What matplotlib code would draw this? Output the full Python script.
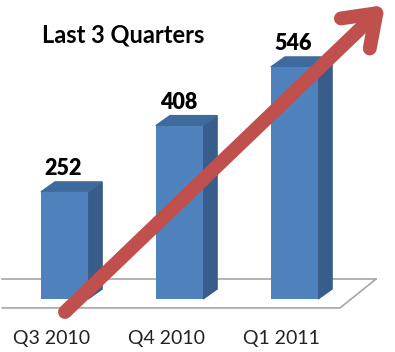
import matplotlib.pyplot as plt
from matplotlib.patches import Polygon

categories = ['Q3 2010', 'Q4 2010', 'Q1 2011']
values = [252, 408, 546]
title = 'Last 3 Quarters'

FRONT = '#4F81BD'
SIDE = '#385D8A'
TOP = '#3F6A9E'
ARROW = '#C0504D'


def main():
    fig = plt.figure(figsize=(3.95, 3.52), dpi=100)
    ax = fig.add_axes([0, 0, 1, 1])
    ax.set_xlim(-0.561, 2.874)
    ax.set_ylim(-124.7, 703.5)
    ax.axis('off')

    w = 0.41
    dx, dy = 0.122, 23.5
    xs = list(range(len(values)))

    # floor
    ax.plot([-0.54, 2.709], [47, 47], color='#A6A6A6', lw=1.2, zorder=1)
    ax.plot([-0.54, 2.396, 2.709], [-21, -21, 47], color='#A6A6A6', lw=1.2, zorder=1)

    ax.bar(xs, values, width=w, color=FRONT, zorder=3)
    for x, v in zip(xs, values):
        r = x + w / 2
        l = x - w / 2
        ax.add_patch(Polygon([(r, 0), (r + dx, dy), (r + dx, v + dy), (r, v)],
                             closed=True, color=SIDE, zorder=2))
        ax.add_patch(Polygon([(l, v), (l + dx, v + dy), (r + dx, v + dy), (r, v)],
                             closed=True, color=TOP, zorder=2))
        ax.text(x - 0.01, v + dy + 6, str(v), ha='center', va='bottom',
                fontsize=15.5, fontweight='heavy', family='Lato', color='black')
        ax.text(x - 0.11, -92, categories[x], ha='center', va='center',
                fontsize=14, family='Lato', color='#222222')

    fig.text(123 / 395, 1 - 35 / 352, title, ha='center', va='center',
             fontsize=17, fontweight='bold', family='Lato', color='black')

    # trend arrow
    ax.annotate('', xy=(385, 347), xytext=(65, 40),
                xycoords='figure pixels', textcoords='figure pixels',
                arrowprops=dict(arrowstyle='->, head_length=2.1, head_width=1.5',
                                color=ARROW, lw=10, capstyle='round',
                                joinstyle='round', shrinkA=0, shrinkB=0),
                zorder=5)

    fig.savefig('out.png', dpi=100)
    plt.close(fig)


if __name__ == '__main__':
    main()
